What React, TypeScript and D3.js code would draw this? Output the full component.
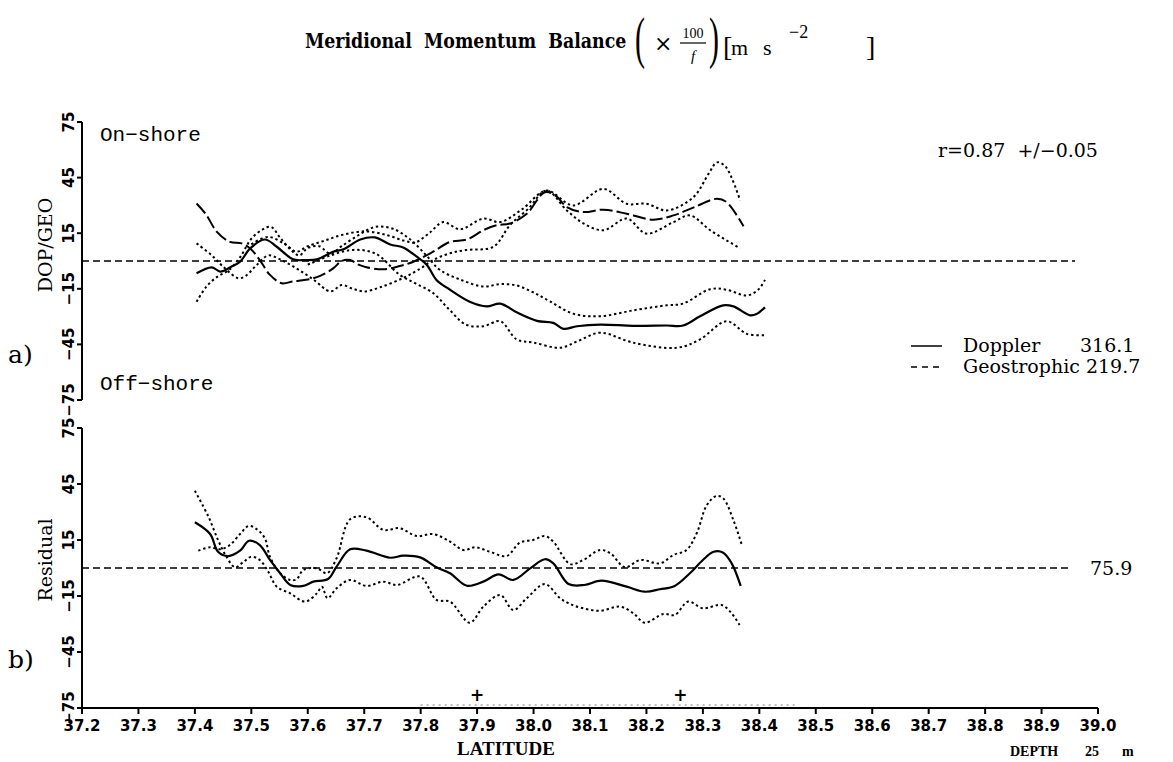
import React from "react";
import * as d3 from "d3";

type Pt = [number, number];

// Axis ticks
const xTicks = [37.2, 37.3, 37.4, 37.5, 37.6, 37.7, 37.8, 37.9, 38.0, 38.1, 38.2, 38.3, 38.4, 38.5, 38.6, 38.7, 38.8, 38.9, 39.0];
const yTicks = [-75, -45, -15, 15, 45, 75];

// Panel a): meridional momentum terms (latitude, value)
const dopplerTop: Pt[] = [
  [37.403, -6.6], [37.43, -3.4], [37.445, -5.7], [37.465, -3], [37.48, -0.4], [37.498, 6.8], [37.524, 11.6],
  [37.545, 7.7], [37.574, 0.9], [37.595, 0.5], [37.616, 0.9], [37.645, 5], [37.663, 6.3], [37.693, 11.6],
  [37.719, 12.7], [37.746, 8.9], [37.769, 7.3], [37.793, 2.3], [37.811, -2.1], [37.828, -10.2], [37.852, -15.5],
  [37.887, -22], [37.917, -24.5], [37.941, -23], [37.97, -27.7], [38.006, -32.3], [38.035, -33.4], [38.053, -36.6],
  [38.077, -35.2], [38.118, -34.3], [38.177, -35], [38.236, -34.8], [38.265, -34.8], [38.295, -29.8], [38.336, -23.9],
  [38.354, -24.5], [38.384, -29.3], [38.395, -28.6], [38.41, -25],
];
const geostrophicTop: Pt[] = [
  [37.403, 31], [37.42, 25], [37.439, 15.7], [37.462, 10.3], [37.483, 9.5], [37.498, 6.8], [37.515, 0.5],
  [37.533, -7.5], [37.554, -12], [37.574, -11], [37.6, -10], [37.622, -8], [37.645, -4], [37.66, 0], [37.675, 0.5],
  [37.69, -2], [37.704, -3.4], [37.734, -4.5], [37.763, -2.7], [37.787, -0.4], [37.822, 5], [37.852, 10.3],
  [37.882, 11.6], [37.911, 16.6], [37.935, 19.3], [37.958, 20.2], [37.988, 25.5], [38.02, 37.1], [38.04, 35],
  [38.059, 29.1], [38.088, 26.4], [38.124, 27.7], [38.165, 25.5], [38.212, 22.3], [38.248, 24.6], [38.283, 28.8],
  [38.325, 33.6], [38.342, 31.8], [38.372, 18.7],
];
const dopplerUpper: Pt[] = [
  [37.403, -22], [37.42, -14], [37.44, -8.4], [37.46, -5], [37.48, 2], [37.5, 12], [37.52, 17], [37.535, 18.4],
  [37.55, 13], [37.57, 6], [37.585, 3], [37.6, 7], [37.62, 8], [37.64, 4], [37.66, 8], [37.69, 14], [37.72, 18.4],
  [37.75, 17.5], [37.78, 12], [37.81, 3], [37.834, -4.8], [37.87, -10], [37.911, -13.8], [37.94, -12.5],
  [37.97, -13.2], [38.0, -17], [38.029, -21.8], [38.07, -28.4], [38.118, -29.8], [38.177, -26.6], [38.236, -23.9],
  [38.265, -23], [38.313, -15.2], [38.342, -15.5], [38.378, -18.6], [38.398, -15.5], [38.41, -10.2],
];
const dopplerLower: Pt[] = [
  [37.6, -2], [37.64, 3], [37.68, 6], [37.72, 4], [37.763, -7.5], [37.79, -12], [37.822, -17.3], [37.85, -26],
  [37.88, -34.3], [37.911, -35.2], [37.941, -32.5], [37.97, -42.3], [38.0, -44], [38.047, -46.8], [38.08, -43],
  [38.118, -38.7], [38.177, -44.1], [38.254, -46.8], [38.295, -42.3], [38.342, -32.5], [38.378, -39.3], [38.41, -40],
];
const geostrophicUpper: Pt[] = [
  [37.5, 9], [37.53, 13], [37.56, 9], [37.58, 5], [37.6, 8], [37.63, 11], [37.66, 14], [37.7, 16], [37.74, 14],
  [37.77, 11], [37.79, 10], [37.815, 15], [37.84, 21], [37.87, 17.1], [37.911, 22.9], [37.941, 21], [37.98, 28],
  [38.023, 38], [38.07, 30], [38.124, 38.9], [38.165, 30.9], [38.2, 30.9], [38.236, 27.3], [38.283, 34.4],
  [38.31, 47], [38.325, 53.2], [38.34, 51], [38.366, 32.7],
];
const geostrophicLower: Pt[] = [
  [37.403, 9.5], [37.43, 3], [37.45, -3], [37.477, -9.3], [37.49, -8], [37.51, -2], [37.53, 3], [37.55, 1],
  [37.58, -4], [37.61, -10], [37.64, -16.4], [37.66, -13], [37.68, -15], [37.7, -16.4], [37.73, -14], [37.77, -9],
  [37.8, -4], [37.822, 0.5], [37.85, 4], [37.88, 5.9], [37.929, 7.7], [37.958, 19.3], [37.99, 28], [38.023, 38],
  [38.059, 27.3], [38.09, 20], [38.124, 16.6], [38.165, 22.9], [38.2, 14.8], [38.248, 21], [38.277, 24.6],
  [38.313, 16.6], [38.366, 6.8],
];

// Panel b): residual and its confidence band
const residual: Pt[] = [
  [37.4, 24.5], [37.427, 18.2], [37.441, 8.7], [37.459, 6.4], [37.48, 9.3], [37.496, 14.6], [37.515, 12.3],
  [37.533, 4.3], [37.551, -2.8], [37.569, -9.1], [37.592, -9.6], [37.61, -7.3], [37.636, -5.9], [37.651, 0.7],
  [37.675, 10], [37.704, 9.3], [37.746, 5.5], [37.769, 6.6], [37.799, 5.7], [37.828, 0.4], [37.852, -2.8],
  [37.882, -9.5], [37.911, -7.3], [37.938, -3.4], [37.964, -6.4], [37.994, -0.2], [38.02, 4.7], [38.035, 2.5],
  [38.062, -8.6], [38.09, -9.1], [38.12, -6.8], [38.165, -10], [38.197, -12.7], [38.224, -11.4], [38.25, -9.6],
  [38.277, -2.8], [38.3, 4.3], [38.319, 8.7], [38.336, 8.2], [38.351, 2.5], [38.367, -9.6],
];
const residualUpper: Pt[] = [
  [37.406, 9.3], [37.427, 11.1], [37.445, 10], [37.462, 12.3], [37.48, 18.2], [37.495, 22.5], [37.51, 20.7],
  [37.524, 15.9], [37.533, 6], [37.551, -2.8], [37.569, -6.4], [37.58, -6.1], [37.592, -1.1], [37.616, -0.2],
  [37.634, -2.8], [37.651, 5.2], [37.675, 26.1], [37.704, 27.2], [37.734, 20.4], [37.763, 21.3], [37.793, 17.1],
  [37.822, 18.2], [37.852, 14.1], [37.876, 9.6], [37.896, 11.1], [37.923, 8.7], [37.952, 6.4], [37.976, 13.6],
  [37.999, 15], [38.02, 17.1], [38.035, 14.1], [38.065, 2.1], [38.088, 4.3], [38.118, 9.6], [38.136, 7.9],
  [38.162, 0.4], [38.189, 4.3], [38.224, 2.5], [38.248, 7], [38.271, 9.6], [38.289, 18.6], [38.307, 33.7],
  [38.324, 38.6], [38.336, 37.3], [38.354, 25.7], [38.369, 12.3],
];
const residualLower: Pt[] = [
  [37.4, 41.4], [37.424, 27.5], [37.441, 15], [37.456, 6], [37.471, 0.4], [37.485, 3], [37.5, 6], [37.515, 4.3],
  [37.53, -2], [37.545, -10], [37.569, -13.6], [37.595, -18], [37.616, -13.6], [37.625, -10], [37.635, -16.2],
  [37.651, -10.9], [37.675, -6.4], [37.704, -9.6], [37.734, -7.3], [37.758, -9.1], [37.799, -4.6], [37.828, -17.1],
  [37.852, -18], [37.887, -29.3], [37.911, -20.7], [37.941, -14.5], [37.964, -22.5], [37.988, -16.2], [38.02, -8.6],
  [38.047, -16.2], [38.065, -19.3], [38.088, -21.6], [38.118, -22.9], [38.153, -20.7], [38.177, -24.3],
  [38.197, -29.3], [38.23, -24.6], [38.25, -25.2], [38.274, -18], [38.3, -21.6], [38.333, -19.8], [38.351, -24.3],
  [38.365, -30.5],
];

// Station marks and data coverage along the latitude axis
const stationLats = [37.9, 38.26];
const coverageLats = [37.8, 38.47];

const W = 1173;
const H = 762;
const AXIS_X = 82;

const x = d3.scaleLinear().domain([37.2, 39.0]).range([82, 1098]);
const yTop = d3.scaleLinear().domain([-75, 75]).range([400, 122]);
const yBot = d3.scaleLinear().domain([-75, 75]).range([708, 428]);

const serif = "'DejaVu Serif', 'Liberation Serif', serif";
const titleSerif = "'Liberation Serif', 'DejaVu Serif', serif";
const tickFont = "'DejaVu Sans', 'Liberation Sans', sans-serif";
const mono = "'Liberation Mono', 'DejaVu Sans Mono', monospace";

function linePath(data: Pt[], y: d3.ScaleLinear<number, number>) {
  return (
    d3
      .line<Pt>()
      .x((d) => x(d[0]))
      .y((d) => y(d[1]))
      .curve(d3.curveCatmullRom.alpha(0.5))(data) || ""
  );
}

const DOTTED = "2.4,2.8";
const LONGDASH = "13,4";
const ZERO_DASH = "7,4";

function YAxis({ y }: { y: d3.ScaleLinear<number, number> }) {
  const [lo, hi] = y.range();
  return (
    <g>
      <line x1={AXIS_X} x2={AXIS_X} y1={hi} y2={lo} stroke="#000" strokeWidth={2} />
      {yTicks.map((t) => (
        <g key={t}>
          <line x1={AXIS_X - 5} x2={AXIS_X} y1={y(t)} y2={y(t)} stroke="#000" strokeWidth={2} />
          <text
            transform={`translate(74,${y(t)}) rotate(-90)`}
            textAnchor="middle"
            fontFamily={tickFont}
            fontWeight="bold"
            fontSize={15}
          >
            {t < 0 ? `\u2212${Math.abs(t)}` : String(t)}
          </text>
        </g>
      ))}
    </g>
  );
}

// Tall, thin bracket glyph stretched vertically
function Paren({ x0, ch }: { x0: number; ch: string }) {
  return (
    <text transform={`translate(${x0},57) scale(1,1.9)`} fontSize={30} fontFamily={titleSerif}>
      {ch}
    </text>
  );
}

export default function App() {
  const zeroTop = yTop(0);
  const zeroBot = yBot(0);
  return (
    <svg
      width={W}
      height={H}
      viewBox={`0 0 ${W} ${H}`}
      style={{ position: "absolute", left: 0, top: 0, background: "#fff", display: "block" }}
    >
      <rect width={W} height={H} fill="#fff" />

      {/* Title */}
      <g fontFamily={titleSerif} fill="#000">
        <text
          transform="translate(305,48) scale(0.87,1)"
          fontFamily={serif}
          fontSize={20}
          fontWeight="bold"
          style={{ whiteSpace: "pre" }}
        >
          {"Meridional  Momentum  Balance"}
        </text>
        <Paren x0={635} ch="(" />
        <text x={654} y={51} fontSize={22} fontFamily={serif}>×</text>
        <text x={693} y={38} fontSize={14} textAnchor="middle">100</text>
        <line x1={680} x2={706} y1={43} y2={43} stroke="#000" strokeWidth={1.2} />
        <text x={693} y={61} fontSize={15} fontStyle="italic" textAnchor="middle">f</text>
        <Paren x0={709} ch=")" />
        <text x={723} y={56} fontSize={28}>[</text>
        <text x={731} y={55} fontSize={22}>m</text>
        <text x={763} y={55} fontSize={22}>s</text>
        <text x={789} y={38} fontSize={18}>−2</text>
        <text x={866} y={56} fontSize={28}>]</text>
      </g>

      {/* Panel a) */}
      <YAxis y={yTop} />
      <line x1={AXIS_X} x2={1075} y1={zeroTop} y2={zeroTop} stroke="#000" strokeWidth={1.5} strokeDasharray={ZERO_DASH} />
      <g fill="none" stroke="#000">
        <path d={linePath(dopplerUpper, yTop)} strokeWidth={2} strokeDasharray={DOTTED} />
        <path d={linePath(dopplerLower, yTop)} strokeWidth={2} strokeDasharray={DOTTED} />
        <path d={linePath(geostrophicUpper, yTop)} strokeWidth={2} strokeDasharray={DOTTED} />
        <path d={linePath(geostrophicLower, yTop)} strokeWidth={2} strokeDasharray={DOTTED} />
        <path d={linePath(geostrophicTop, yTop)} strokeWidth={2} strokeDasharray={LONGDASH} />
        <path d={linePath(dopplerTop, yTop)} strokeWidth={2.2} />
      </g>
      <text x={100} y={141} fontFamily={mono} fontSize={21}>On−shore</text>
      <text x={100} y={390} fontFamily={mono} fontSize={21}>Off−shore</text>
      <text transform={`translate(52,245) rotate(-90)`} textAnchor="middle" fontFamily={serif} fontSize={19}>
        DOP/GEO
      </text>
      <text x={8} y={363} fontFamily={serif} fontSize={25}>a)</text>
      <text x={938} y={157} fontFamily={serif} fontSize={19} style={{ whiteSpace: "pre" }}>{"r=0.87  +/−0.05"}</text>

      {/* Legend */}
      <line x1={911} x2={942} y1={346} y2={346} stroke="#000" strokeWidth={1.5} />
      <line x1={911} x2={942} y1={367} y2={367} stroke="#000" strokeWidth={1.5} strokeDasharray="6,5" />
      <g fontFamily={serif} fontSize={19}>
        <text x={963} y={352}>Doppler</text>
        <text x={1080} y={352}>316.1</text>
        <text x={963} y={373}>Geostrophic 219.7</text>
      </g>

      {/* Panel b) */}
      <YAxis y={yBot} />
      <line x1={AXIS_X} x2={1072} y1={zeroBot} y2={zeroBot} stroke="#000" strokeWidth={1.5} strokeDasharray={ZERO_DASH} />
      <g fill="none" stroke="#000">
        <path d={linePath(residualUpper, yBot)} strokeWidth={2} strokeDasharray={DOTTED} />
        <path d={linePath(residualLower, yBot)} strokeWidth={2} strokeDasharray={DOTTED} />
        <path d={linePath(residual, yBot)} strokeWidth={2.2} />
      </g>
      <text x={1090} y={575} fontFamily={serif} fontSize={19}>75.9</text>
      <text transform={`translate(52,560) rotate(-90)`} textAnchor="middle" fontFamily={serif} fontSize={19}>
        Residual
      </text>
      <text x={8} y={668} fontFamily={serif} fontSize={25}>b)</text>

      {/* Latitude axis */}
      <line
        x1={x(coverageLats[0])}
        x2={x(coverageLats[1])}
        y1={705}
        y2={705}
        stroke="#000"
        strokeWidth={1}
        strokeDasharray="2,4"
        opacity={0.5}
      />
      <line x1={AXIS_X} x2={1098} y1={708} y2={708} stroke="#000" strokeWidth={2} />
      {xTicks.map((t) => (
        <g key={t}>
          <line x1={x(t)} x2={x(t)} y1={708} y2={714} stroke="#000" strokeWidth={2} />
          <text x={x(t)} y={731} textAnchor="middle" fontFamily={tickFont} fontWeight="bold" fontSize={15}>
            {t.toFixed(1)}
          </text>
        </g>
      ))}
      {stationLats.map((s) => (
        <text key={s} x={x(s)} y={701} textAnchor="middle" fontFamily={tickFont} fontWeight="bold" fontSize={17}>
          +
        </text>
      ))}
      <text x={506} y={755} textAnchor="middle" fontFamily={titleSerif} fontWeight="bold" fontSize={19}>
        LATITUDE
      </text>
      <g fontFamily={titleSerif} fontWeight="bold" fontSize={14}>
        <text x={1010} y={756}>DEPTH</text>
        <text x={1085} y={756}>25</text>
        <text x={1122} y={756}>m</text>
      </g>
    </svg>
  );
}
